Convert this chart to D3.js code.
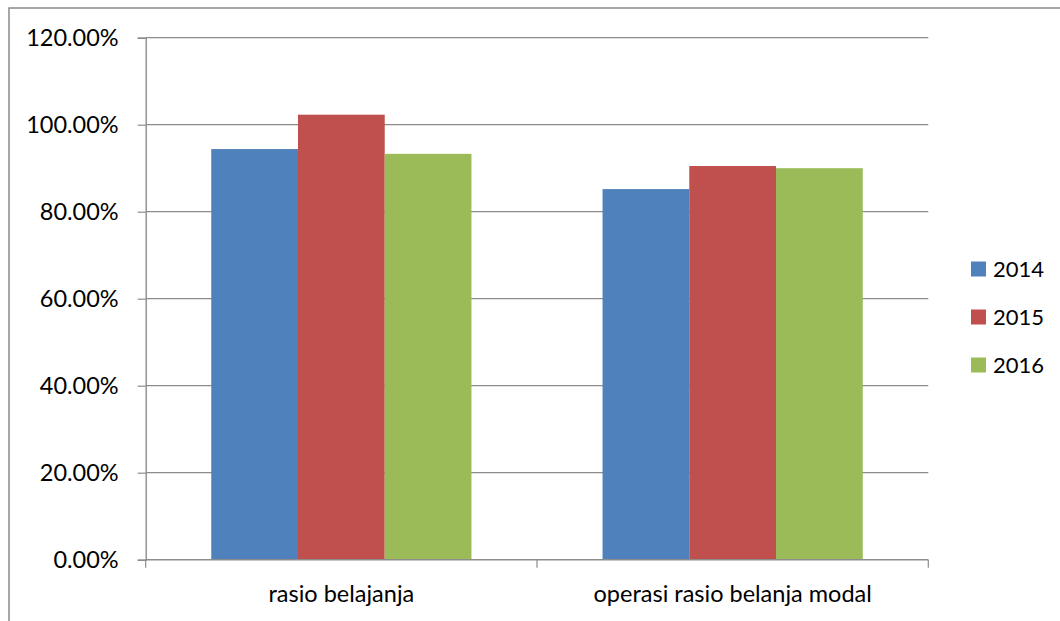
<!DOCTYPE html>
<html>
<head>
<meta charset="utf-8">
<script src="https://cdn.jsdelivr.net/npm/d3@7"></script>
<style>
  html, body { margin: 0; padding: 0; background: #fff; }
  svg { display: block; font-family: Lato, "Open Sans", sans-serif; }
</style>
</head>
<body>
<svg id="chart" width="1060" height="621"></svg>
<script>
// Categories, series and values (ratios in percent)
const categories = ["rasio belajanja", "operasi rasio belanja modal"];
const years = ["2014", "2015", "2016"];
const values2014 = [94.4, 85.2];
const values2015 = [102.3, 90.5];
const values2016 = [93.3, 90.0];
const colors = ["#4f81bd", "#c0504d", "#9bbb59"];
const yTicks = [0, 20, 40, 60, 80, 100, 120];

const seriesValues = [values2014, values2015, values2016];

const svg = d3.select("#chart");
const W = 1060, H = 621;
const plot = { left: 145.7, right: 928.3, top: 37.7, bottom: 559.7 };
const fontSize = "23.5px";

// Outer chart frame (open on the right and bottom edges of the canvas)
svg.append("rect")
  .attr("x", 9).attr("y", 8)
  .attr("width", W + 20).attr("height", H + 20)
  .attr("fill", "#fff")
  .attr("stroke", "#8a8a8a")
  .attr("stroke-width", 1.5);

const y = d3.scaleLinear().domain([0, 120]).range([plot.bottom, plot.top]);
const x0 = d3.scaleBand().domain(categories).range([plot.left, plot.right]).paddingInner(0).paddingOuter(0);
// Bars occupy the central 2/3 of each category band
const groupWidth = x0.bandwidth() * 0.665;
const groupOffset = (x0.bandwidth() - groupWidth) / 2;
const x1 = d3.scaleBand().domain(years).range([groupOffset, groupOffset + groupWidth]).padding(0);

// Horizontal gridlines
svg.append("g")
  .selectAll("line")
  .data(yTicks.filter(d => d > 0))
  .join("line")
  .attr("x1", plot.left).attr("x2", plot.right)
  .attr("y1", d => y(d)).attr("y2", d => y(d))
  .attr("stroke", "#8c8c8c").attr("stroke-width", 1.2);

// Bars
const groups = svg.append("g")
  .selectAll("g")
  .data(categories)
  .join("g")
  .attr("transform", d => `translate(${x0(d)},0)`);

groups.selectAll("rect")
  .data((c, ci) => years.map((yr, si) => ({ yr, si, v: seriesValues[si][ci] })))
  .join("rect")
  .attr("x", d => x1(d.yr))
  .attr("width", x1.bandwidth())
  .attr("y", d => y(d.v))
  .attr("height", d => y(0) - y(d.v))
  .attr("fill", d => colors[d.si]);

// Y axis
const yAxis = d3.axisLeft(y)
  .tickValues(yTicks)
  .tickSize(8)
  .tickPadding(19)
  .tickFormat(d => d3.format(".2f")(d) + "%");
const gy = svg.append("g")
  .attr("transform", `translate(${plot.left},0)`)
  .call(yAxis);
gy.select(".domain").attr("stroke", "#8c8c8c").attr("stroke-width", 1.4);
gy.selectAll(".tick line").attr("stroke", "#8c8c8c").attr("stroke-width", 1.2);
gy.selectAll(".tick text")
  .attr("fill", "#000")
  .style("font-size", fontSize)
  .style("font-family", "Lato, 'Open Sans', sans-serif");

// X axis
const xAxis = d3.axisBottom(x0).tickSize(0).tickPadding(26);
const gx = svg.append("g")
  .attr("transform", `translate(0,${plot.bottom})`)
  .call(xAxis);
gx.select(".domain").attr("stroke", "#8c8c8c").attr("stroke-width", 1.4)
  .attr("d", `M${plot.left},0H${plot.right}`);
gx.selectAll(".tick text")
  .attr("fill", "#000")
  .style("font-size", fontSize)
  .style("font-family", "Lato, 'Open Sans', sans-serif");

// Category separator tick marks below the axis
const boundaries = [plot.left].concat(categories.map(c => x0(c) + x0.bandwidth()));
svg.append("g")
  .selectAll("line")
  .data(boundaries)
  .join("line")
  .attr("x1", d => d).attr("x2", d => d)
  .attr("y1", plot.bottom).attr("y2", plot.bottom + 8)
  .attr("stroke", "#8c8c8c").attr("stroke-width", 1.2);

// Legend
const legend = svg.append("g")
  .selectAll("g")
  .data(years)
  .join("g")
  .attr("transform", (d, i) => `translate(971,${269 + i * 48})`);
legend.append("rect")
  .attr("x", 0).attr("y", -7.5)
  .attr("width", 15).attr("height", 15)
  .attr("fill", (d, i) => colors[i]);
legend.append("text")
  .attr("x", 22).attr("y", 0)
  .attr("dy", "0.35em")
  .style("font-size", "22px")
  .attr("fill", "#000")
  .text(d => d);
</script>
</body>
</html>
